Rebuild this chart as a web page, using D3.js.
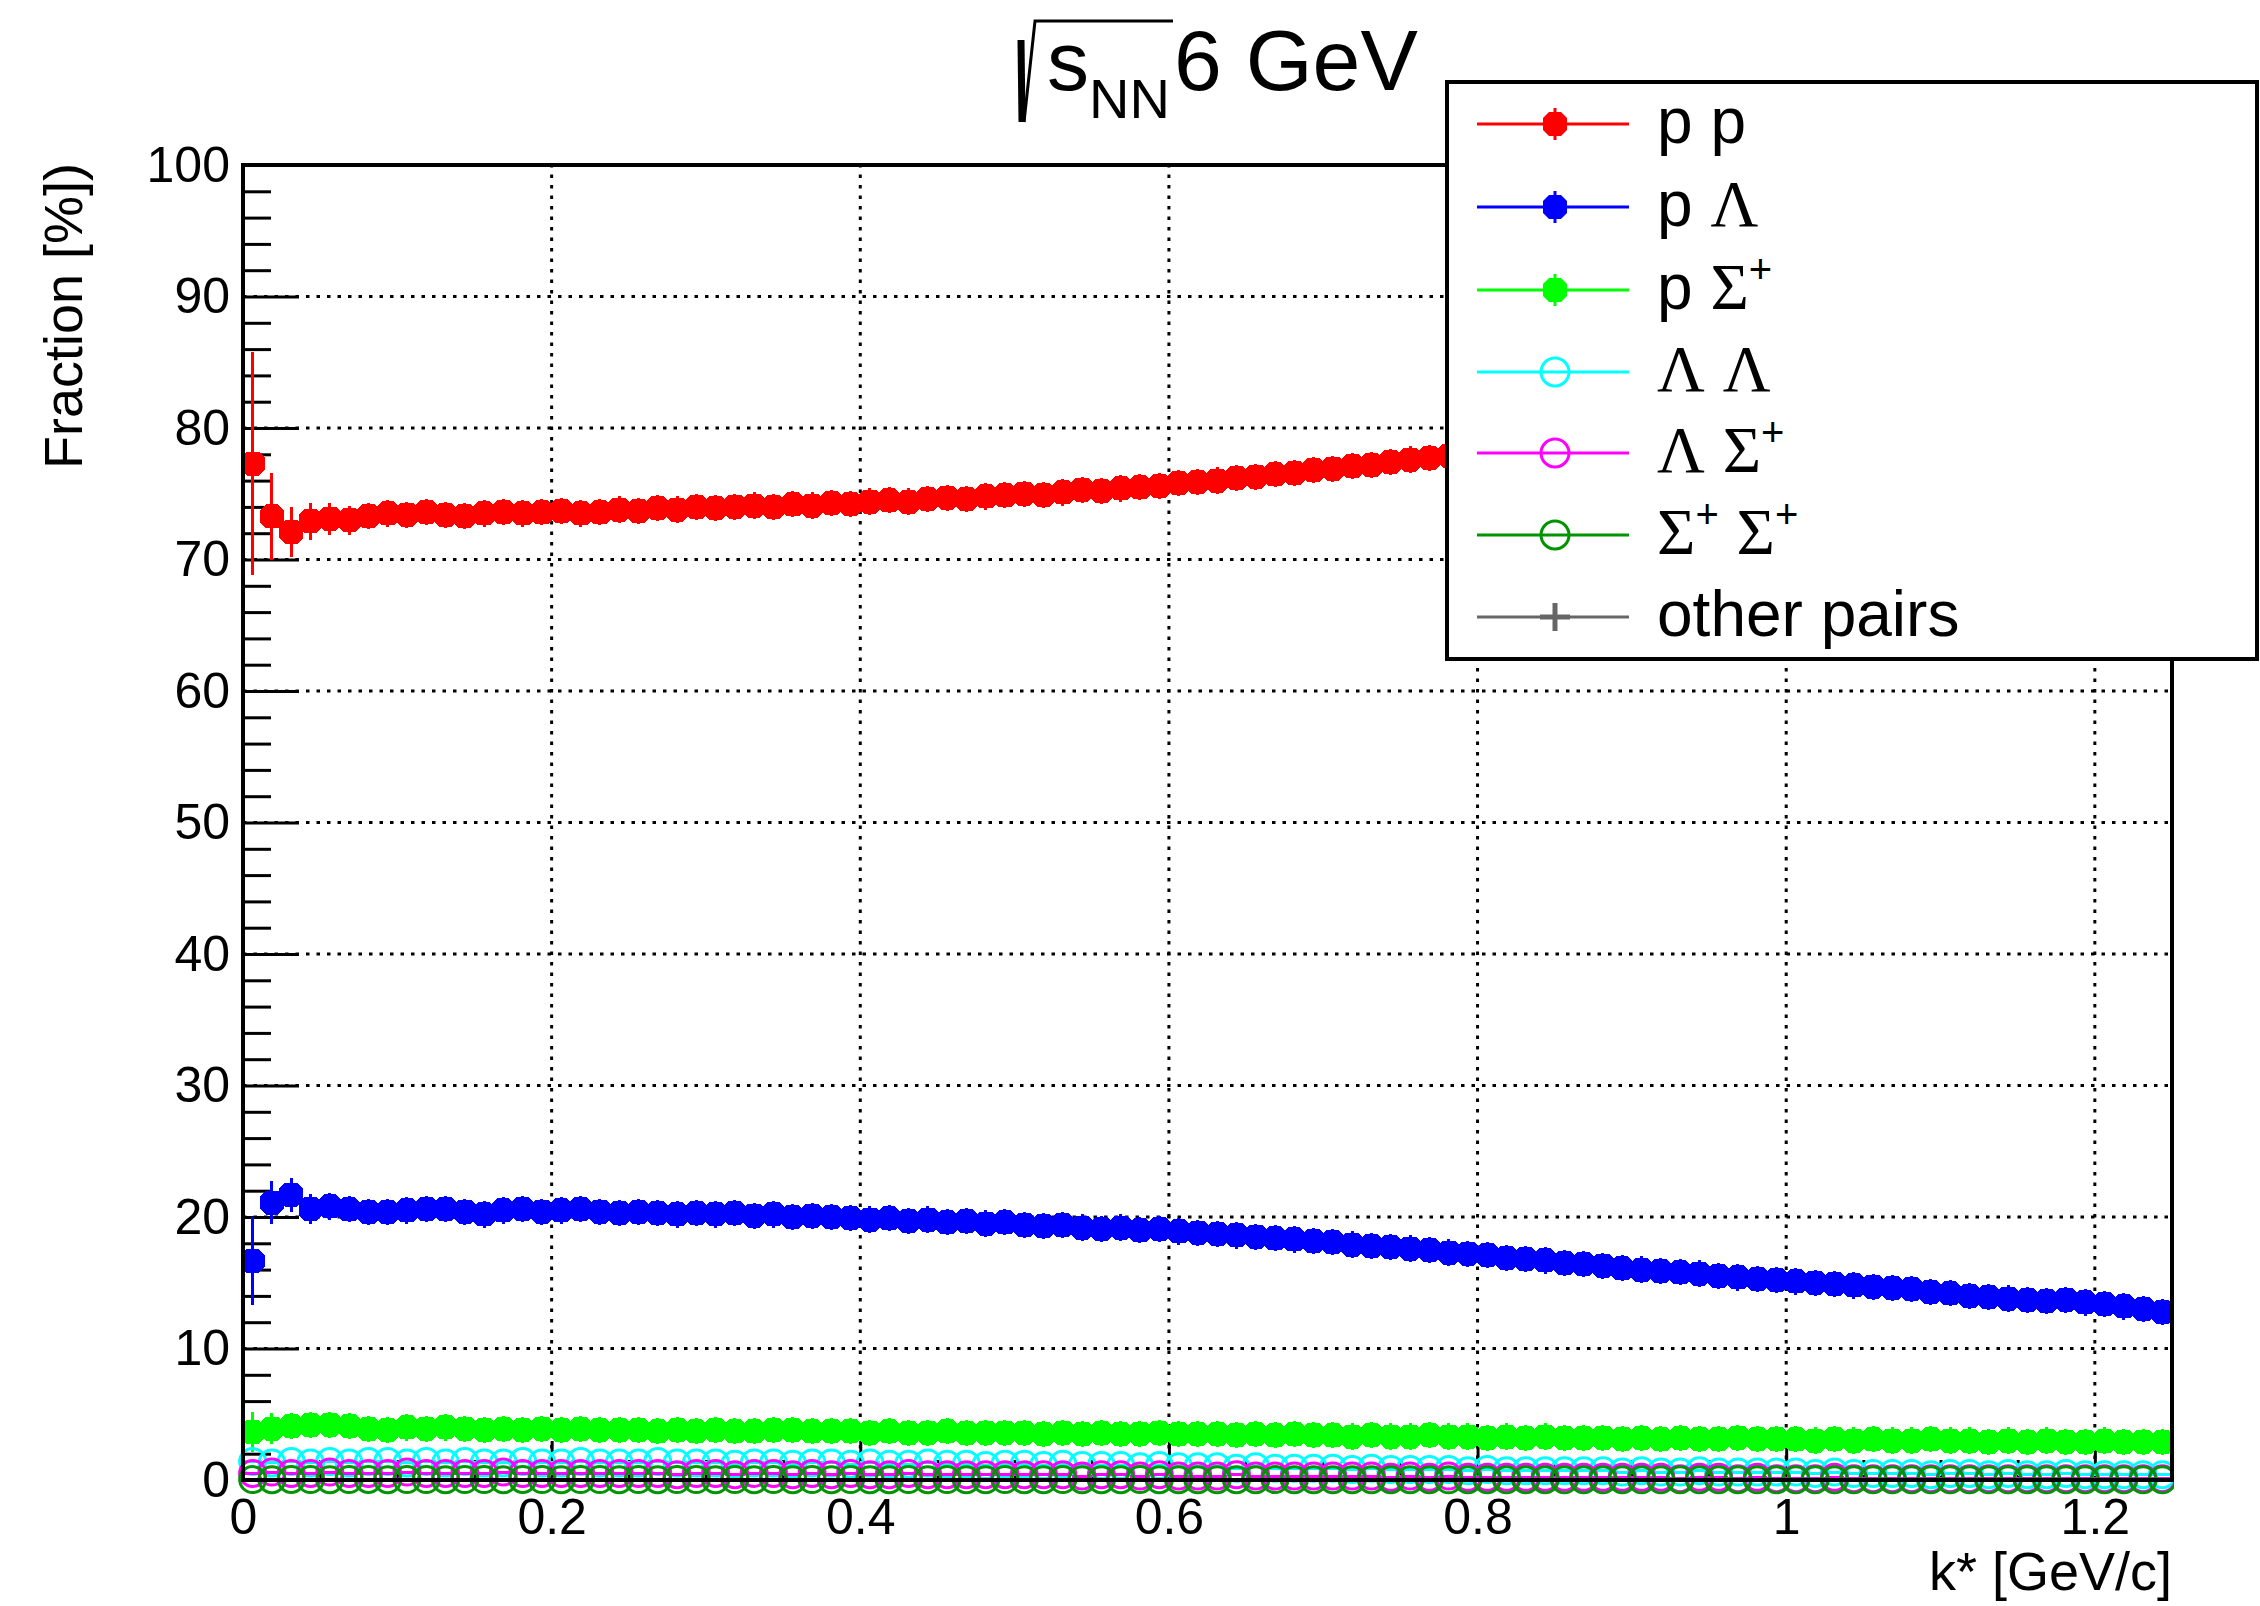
<!DOCTYPE html>
<html><head><meta charset="utf-8">
<script src="https://cdn.jsdelivr.net/npm/d3@7/dist/d3.min.js"></script>
<style>body{margin:0;background:#fff}svg{display:block}</style>
</head><body>
<svg id="c" width="2260" height="1606"></svg>
<script>
// ---------------- data ----------------
const xTickValues = [0, 0.2, 0.4, 0.6, 0.8, 1, 1.2];
const xTickLabels = ["0", "0.2", "0.4", "0.6", "0.8", "1", "1.2"];
const yTickValues = [0, 10, 20, 30, 40, 50, 60, 70, 80, 90, 100];
const yTickLabels = ["0", "10", "20", "30", "40", "50", "60", "70", "80", "90", "100"];
const binWidth = 0.0125;   // k* bin width [GeV/c]
const nBins = 100;

const ppVals = [
 77.3, 73.3, 72.1, 72.9, 73.1, 73.0, 73.3, 73.5, 73.4, 73.6,
 73.4, 73.3, 73.5, 73.6, 73.5, 73.6, 73.7, 73.5, 73.6, 73.8,
 73.7, 73.9, 73.8, 74.0, 73.9, 74.0, 74.1, 74.0, 74.2, 74.1,
 74.3, 74.2, 74.4, 74.5, 74.4, 74.6, 74.7, 74.6, 74.8, 74.9,
 75.0, 74.9, 75.1, 75.3, 75.2, 75.4, 75.5, 75.6, 75.8, 75.9,
 76.0, 76.2, 76.3, 76.5, 76.6, 76.8, 76.9, 77.1, 77.2, 77.4,
 77.6, 77.7, 77.9, 78.0, 78.2, 78.4, 78.5, 78.7, 78.8, 79.0,
 79.2, 79.3, 79.5, 79.7, 79.8, 80.0, 80.1, 80.3, 80.5, 80.6,
 80.8, 81.0, 81.1, 81.3, 81.5, 81.6, 81.8, 82.0, 82.1, 82.3,
 82.5, 82.6, 82.8, 83.0, 83.1, 83.3, 83.5, 83.6, 83.8, 84.0];
const ppErrHead = [8.5, 3.3, 1.9, 1.4, 1.2, 1.1];
const ppErrTail = 1.0;

const pLVals = [
 16.65, 21.1, 21.7, 20.6, 20.8, 20.6, 20.4, 20.4, 20.5, 20.6,
 20.6, 20.4, 20.2, 20.5, 20.6, 20.4, 20.5, 20.6, 20.4, 20.3,
 20.4, 20.3, 20.2, 20.3, 20.2, 20.3, 20.1, 20.2, 20.0, 20.1,
 20.0, 19.9, 19.8, 19.9, 19.7, 19.8, 19.6, 19.7, 19.5, 19.6,
 19.4, 19.3, 19.4, 19.2, 19.1, 19.2, 19.0, 19.1, 18.9, 18.8,
 18.7, 18.6, 18.5, 18.4, 18.3, 18.2, 18.1, 17.9, 17.8, 17.7,
 17.6, 17.5, 17.3, 17.2, 17.1, 16.9, 16.8, 16.7, 16.5, 16.4,
 16.3, 16.1, 16.0, 15.9, 15.8, 15.7, 15.5, 15.4, 15.3, 15.2,
 15.1, 15.0, 14.9, 14.8, 14.7, 14.6, 14.5, 14.3, 14.2, 14.0,
 13.9, 13.8, 13.7, 13.6, 13.7, 13.5, 13.4, 13.2, 13.0, 12.8];
const pLErrHead = [3.35, 1.6, 1.3, 1.15];
const pLErrTail = 1.0;

const pSVals = [
 3.65, 3.9, 4.1, 4.2, 4.2, 4.1, 3.9, 3.8, 4.0, 3.9,
 4.0, 3.9, 3.8, 3.9, 3.8, 3.9, 3.8, 3.9, 3.8, 3.8,
 3.8, 3.7, 3.8, 3.7, 3.8, 3.7, 3.7, 3.8, 3.8, 3.7,
 3.7, 3.7, 3.6, 3.7, 3.6, 3.6, 3.7, 3.6, 3.6, 3.6,
 3.6, 3.5, 3.6, 3.5, 3.6, 3.5, 3.5, 3.6, 3.5, 3.5,
 3.5, 3.4, 3.5, 3.4, 3.5, 3.4, 3.4, 3.3, 3.4, 3.3,
 3.3, 3.4, 3.3, 3.3, 3.2, 3.3, 3.2, 3.3, 3.2, 3.2,
 3.2, 3.1, 3.2, 3.1, 3.2, 3.1, 3.1, 3.2, 3.1, 3.1,
 3.1, 3.0, 3.1, 3.0, 3.1, 3.0, 3.0, 3.1, 3.0, 3.0,
 2.9, 3.0, 2.9, 3.0, 2.9, 2.9, 3.0, 2.9, 2.9, 2.9];
const pSErrHead = [1.5, 1.2];
const pSErrTail = 1.0;

const LLVals = [
 1.4, 1.3, 1.4, 1.3, 1.4, 1.3, 1.4, 1.4, 1.3, 1.4,
 1.3, 1.4, 1.3, 1.3, 1.4, 1.3, 1.3, 1.4, 1.3, 1.3,
 1.3, 1.4, 1.3, 1.3, 1.3, 1.2, 1.3, 1.3, 1.2, 1.3,
 1.3, 1.2, 1.3, 1.2, 1.2, 1.3, 1.2, 1.2, 1.1, 1.2,
 1.2, 1.1, 1.2, 1.1, 1.1, 1.1, 1.0, 1.1, 1.0, 1.0,
 1.0, 0.9, 1.0, 0.9, 0.9, 0.9, 0.9, 0.8, 0.9, 0.8,
 0.8, 0.8, 0.8, 0.7, 0.8, 0.7, 0.7, 0.7, 0.7, 0.7,
 0.7, 0.6, 0.7, 0.6, 0.6, 0.7, 0.6, 0.6, 0.6, 0.6,
 0.6, 0.5, 0.6, 0.5, 0.5, 0.5, 0.5, 0.4, 0.5, 0.5,
 0.4, 0.5, 0.4, 0.4, 0.5, 0.4, 0.4, 0.4, 0.4, 0.4];

const LSVals = [
 0.5, 0.6, 0.5, 0.5, 0.6, 0.5, 0.5, 0.5, 0.6, 0.5,
 0.5, 0.5, 0.5, 0.6, 0.5, 0.5, 0.5, 0.5, 0.5, 0.5,
 0.5, 0.5, 0.4, 0.5, 0.5, 0.4, 0.5, 0.5, 0.4, 0.5,
 0.4, 0.5, 0.4, 0.4, 0.5, 0.4, 0.4, 0.4, 0.4, 0.4,
 0.4, 0.4, 0.4, 0.3, 0.4, 0.4, 0.3, 0.4, 0.3, 0.3,
 0.3, 0.4, 0.3, 0.3, 0.3, 0.3, 0.3, 0.3, 0.3, 0.2,
 0.3, 0.2, 0.3, 0.2, 0.2, 0.2, 0.2, 0.2, 0.2, 0.2,
 0.2, 0.2, 0.2, 0.2, 0.1, 0.2, 0.2, 0.1, 0.2, 0.1,
 0.1, 0.1, 0.2, 0.1, 0.1, 0.1, 0.1, 0.1, 0.1, 0.1,
 0.1, 0.1, 0.1, 0.1, 0.1, 0.1, 0.1, 0.1, 0.1, 0.1];

const SSVals = [
 0.03, 0.02, 0.04, 0.03, 0.02, 0.03, 0.04, 0.02, 0.03, 0.03,
 0.02, 0.03, 0.03, 0.02, 0.04, 0.03, 0.02, 0.03, 0.03, 0.02,
 0.03, 0.02, 0.03, 0.03, 0.02, 0.03, 0.02, 0.03, 0.02, 0.03,
 0.02, 0.03, 0.02, 0.02, 0.03, 0.02, 0.03, 0.02, 0.02, 0.03,
 0.02, 0.02, 0.03, 0.02, 0.02, 0.02, 0.03, 0.02, 0.02, 0.02,
 0.02, 0.02, 0.02, 0.03, 0.02, 0.02, 0.02, 0.02, 0.02, 0.02,
 0.02, 0.02, 0.01, 0.02, 0.02, 0.01, 0.02, 0.02, 0.01, 0.02,
 0.01, 0.02, 0.01, 0.01, 0.02, 0.01, 0.01, 0.02, 0.01, 0.01,
 0.01, 0.01, 0.01, 0.01, 0.01, 0.01, 0.01, 0.01, 0.01, 0.01,
 0.01, 0.01, 0.01, 0.01, 0.01, 0.01, 0.01, 0.01, 0.01, 0.01];

const otherVals = [
 0,0,0,0,0,0,0,0,0,0, 0,0,0,0,0,0,0,0,0,0,
 0,0,0,0,0,0,0,0,0,0, 0,0,0,0,0,0,0,0,0,0,
 0,0,0,0,0,0,0,0,0,0, 0,0,0,0,0,0,0,0,0,0,
 0,0,0,0,0,0,0,0,0,0, 0,0,0,0,0,0,0,0,0,0,
 0,0,0,0,0,0,0,0,0,0, 0,0,0,0,0,0,0,0,0,0];

const seriesNames = ["p p", "p \u039B", "p \u03A3+", "\u039B \u039B", "\u039B \u03A3+", "\u03A3+ \u03A3+", "other pairs"];

// ---------------- layout ----------------
const L = 243, R = 2172, T = 165, B = 1480;
const svg = d3.select("#c");
const x = d3.scaleLinear().domain([0, 1.25]).range([L, R]);
const y = d3.scaleLinear().domain([0, 100]).range([B, T]);
const SANS = "'Liberation Sans', Arial, Helvetica, sans-serif";
const SERIF = "'Liberation Serif', 'Times New Roman', serif";
// pixel-style full circle (octagon) like the reference markers
const OCT = "M-6,-12L6,-12L12,-6L12,6L6,12L-6,12L-12,6L-12,-6Z";

svg.append("rect").attr("width", 2260).attr("height", 1606).attr("fill", "#fff");

// grid
const grid = svg.append("g").attr("stroke", "#000").attr("stroke-width", 3).attr("stroke-dasharray", "3.5 7");
xTickValues.filter(v => v > 0).forEach(v => {
  grid.append("line").attr("x1", x(v)).attr("x2", x(v)).attr("y1", B).attr("y2", T);
});
yTickValues.filter(v => v > 0 && v < 100).forEach(v => {
  grid.append("line").attr("x1", L).attr("x2", R).attr("y1", y(v)).attr("y2", y(v));
});

// axes
const yMinor = d3.range(0, 100.001, 2).filter(v => v % 10 !== 0);
const xMinor = d3.range(0, 1.2501, 0.05).filter(v => Math.abs(v / 0.2 - Math.round(v / 0.2)) > 1e-6);

const yAxis = d3.axisLeft(y).tickValues(yTickValues).tickFormat((d, i) => yTickLabels[i]).tickSize(-56).tickPadding(13);
const gy = svg.append("g").attr("transform", `translate(${L},0)`).call(yAxis);
gy.select(".domain").remove();
gy.selectAll(".tick line").attr("stroke-width", 3);
gy.selectAll("text").attr("font-family", SANS).attr("font-size", 50).attr("fill", "#000");
const gym = svg.append("g").attr("transform", `translate(${L},0)`)
  .call(d3.axisLeft(y).tickValues(yMinor).tickFormat("").tickSize(-28));
gym.select(".domain").remove();
gym.selectAll(".tick line").attr("stroke-width", 3);

const xAxis = d3.axisBottom(x).tickValues(xTickValues).tickFormat((d, i) => xTickLabels[i]).tickSize(-39).tickPadding(18);
const gx = svg.append("g").attr("transform", `translate(0,${B})`).call(xAxis);
gx.select(".domain").remove();
gx.selectAll(".tick line").attr("stroke-width", 3);
gx.selectAll("text").attr("font-family", SANS).attr("font-size", 50).attr("fill", "#000");
const gxm = svg.append("g").attr("transform", `translate(0,${B})`)
  .call(d3.axisBottom(x).tickValues(xMinor).tickFormat("").tickSize(-20));
gxm.select(".domain").remove();
gxm.selectAll(".tick line").attr("stroke-width", 3);

// data
const centers = d3.range(nBins).map(i => (i + 0.5) * binWidth);
function errs(head, tail) { return centers.map((c, i) => i < head.length ? head[i] : tail); }

const series = [
  {vals: ppVals, err: errs(ppErrHead, ppErrTail), color: "#ff0000", marker: "full"},
  {vals: pLVals, err: errs(pLErrHead, pLErrTail), color: "#0000ff", marker: "full"},
  {vals: pSVals, err: errs(pSErrHead, pSErrTail), color: "#00ff00", marker: "full"},
  {vals: LLVals, err: null, color: "#00ffff", marker: "open"},
  {vals: LSVals, err: null, color: "#ff00ff", marker: "open"},
  {vals: SSVals, err: null, color: "#009400", marker: "open"},
  {vals: otherVals, err: null, color: "#666666", marker: "plus"}
];

svg.append("clipPath").attr("id", "plotclip").append("rect")
  .attr("x", L - 12).attr("y", T).attr("width", R - L + 14).attr("height", B - T + 30);
const plot = svg.append("g").attr("clip-path", "url(#plotclip)");

series.forEach(s => {
  const g = plot.append("g").attr("shape-rendering", "crispEdges");
  const pts = s.vals.map((v, i) => ({c: centers[i], v, e: s.err ? s.err[i] : 0}));
  g.selectAll("line.h").data(pts).join("line")
    .attr("x1", d => x(d.c - binWidth / 2)).attr("x2", d => x(d.c + binWidth / 2))
    .attr("y1", d => y(d.v)).attr("y2", d => y(d.v))
    .attr("stroke", s.color).attr("stroke-width", 3);
  g.selectAll("line.v").data(pts.filter(d => d.e > 0)).join("line")
    .attr("x1", d => x(d.c)).attr("x2", d => x(d.c))
    .attr("y1", d => y(d.v - d.e)).attr("y2", d => y(d.v + d.e))
    .attr("stroke", s.color).attr("stroke-width", 3);
  if (s.marker === "full") {
    g.selectAll("path.m").data(pts).join("path")
      .attr("d", OCT).attr("transform", d => `translate(${x(d.c)},${y(d.v)})`).attr("fill", s.color);
  } else if (s.marker === "open") {
    g.selectAll("circle").data(pts).join("circle")
      .attr("cx", d => x(d.c)).attr("cy", d => y(d.v)).attr("r", 13).attr("fill", "none")
      .attr("stroke", s.color).attr("stroke-width", 3).attr("shape-rendering", "auto");
  }
});

// frame
svg.append("rect").attr("x", L).attr("y", T).attr("width", R - L).attr("height", B - T)
  .attr("fill", "none").attr("stroke", "#000").attr("stroke-width", 4);

// axis titles
svg.append("text").attr("x", R).attr("y", 1590).attr("text-anchor", "end")
  .attr("font-family", SANS).attr("font-size", 54).text("k* [GeV/c]");
svg.append("text").attr("transform", "translate(82,163) rotate(-90)").attr("text-anchor", "end")
  .attr("font-family", SANS).attr("font-size", 54).text("Fraction [%])");

// title: sqrt(s_NN) 6 GeV
svg.append("path").attr("d", "M1021,40 L1022,122").attr("stroke", "#000").attr("stroke-width", 7).attr("fill", "none");
svg.append("path").attr("d", "M1024,122 L1035,21 L1173,21").attr("stroke", "#000").attr("stroke-width", 3).attr("fill", "none");
const title = svg.append("text").attr("font-family", SANS).attr("fill", "#000");
title.append("tspan").attr("x", 1047).attr("y", 90).attr("font-size", 84).text("s");
title.append("tspan").attr("x", 1089).attr("y", 118).attr("font-size", 56).text("NN");
title.append("tspan").attr("x", 1174).attr("y", 90).attr("font-size", 86).text("6 GeV");

// legend
const leg = svg.append("g");
leg.append("rect").attr("x", 1447).attr("y", 82).attr("width", 810).attr("height", 577)
  .attr("fill", "#fff").attr("stroke", "#000").attr("stroke-width", 4);
const rowY = [124, 207, 290, 372, 453, 535, 617];
const labelParts = [
  [["p p", 0]],
  [["p ", 0], ["\u039B", 1]],
  [["p ", 0], ["\u03A3", 1], ["+", 2]],
  [["\u039B", 1], [" ", 0], ["\u039B", 1]],
  [["\u039B", 1], [" ", 0], ["\u03A3", 1], ["+", 2]],
  [["\u03A3", 1], ["+", 2], [" ", 0], ["\u03A3", 1], ["+", 2]],
  [["other pairs", 0]]
];
series.forEach((s, i) => {
  const cy = rowY[i];
  const g = leg.append("g");
  g.append("line").attr("x1", 1477).attr("x2", 1629).attr("y1", cy).attr("y2", cy)
    .attr("stroke", s.color).attr("stroke-width", 3);
  if (s.marker === "full") {
    g.append("line").attr("x1", 1555).attr("x2", 1555).attr("y1", cy - 16).attr("y2", cy + 16)
      .attr("stroke", s.color).attr("stroke-width", 3);
    g.append("path").attr("d", OCT).attr("transform", `translate(1555,${cy})`).attr("fill", s.color);
  } else if (s.marker === "open") {
    g.append("circle").attr("cx", 1555).attr("cy", cy).attr("r", 14).attr("fill", "none")
      .attr("stroke", s.color).attr("stroke-width", 3);
  } else {
    g.append("line").attr("x1", 1540).attr("x2", 1570).attr("y1", cy).attr("y2", cy)
      .attr("stroke", s.color).attr("stroke-width", 5);
    g.append("line").attr("x1", 1555).attr("x2", 1555).attr("y1", cy - 14).attr("y2", cy + 14)
      .attr("stroke", s.color).attr("stroke-width", 5);
  }
  const t = g.append("text").attr("x", 1657).attr("y", cy + 19).attr("font-size", 64).attr("fill", "#000")
    .attr("xml:space", "preserve").style("white-space", "pre");
  let shifted = false;
  labelParts[i].forEach(([txt, kind]) => {
    const sp = t.append("tspan").text(txt);
    if (kind === 1) sp.attr("font-family", SERIF).attr("font-size", 66);
    else if (kind === 2) { sp.attr("font-family", SANS).attr("font-size", 40).attr("dy", -26); shifted = true; }
    else sp.attr("font-family", SANS);
    if (kind !== 2 && shifted) { sp.attr("dy", 26); shifted = false; }
  });
});
</script>
</body></html>
